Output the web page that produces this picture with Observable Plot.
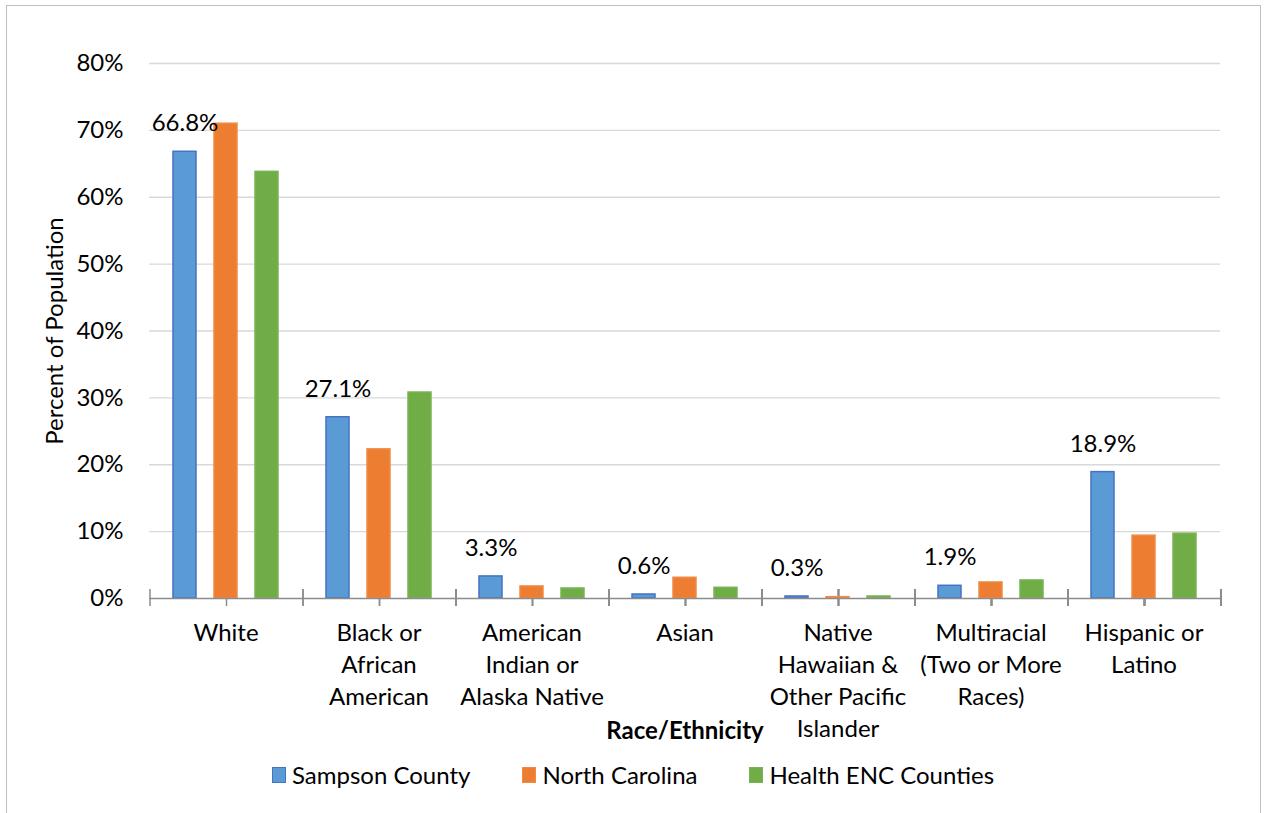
<!DOCTYPE html>
<html>
<head>
<meta charset="utf-8">
<script src="https://cdn.jsdelivr.net/npm/d3@7"></script>
<script src="https://cdn.jsdelivr.net/npm/@observablehq/plot@0.6"></script>
<style>
  html, body { margin: 0; padding: 0; background: #fff; }
  body { width: 1266px; height: 813px; position: relative; overflow: hidden; font-family: Lato, sans-serif; }
  #frame { position: absolute; left: 6px; top: 5px; width: 1255px; height: 900px; border: 1.5px solid #bfbfbf; box-sizing: border-box; }
  #chart { position: absolute; left: 0; top: 0; }
  #legend { position: absolute; top: 760px; left: 0; width: 1266px; display: flex; justify-content: center; gap: 0; font-size: 24px; color: #000; }
  .item { display: flex; align-items: center; }
  .sw { width: 14px; height: 16px; margin-right: 6px; box-sizing: border-box; }
</style>
</head>
<body>
<div id="frame"></div>
<div id="chart"></div>
<div id="legend"></div>
<script>
const categories = ["White", "Black or African American", "American Indian or Alaska Native", "Asian", "Native Hawaiian & Other Pacific Islander", "Multiracial (Two or More Races)", "Hispanic or Latino"];
const categoryLabels = ["White", "Black or\nAfrican\nAmerican", "American\nIndian or\nAlaska Native", "Asian", "Native\nHawaiian &\nOther Pacific\nIslander", "Multiracial\n(Two or More\nRaces)", "Hispanic or\nLatino"];
const seriesNames = ["Sampson County", "North Carolina", "Health ENC Counties"];
const sampson = [66.8, 27.1, 3.3, 0.6, 0.3, 1.9, 18.9];
const northCarolina = [71.0, 22.3, 1.8, 3.1, 0.2, 2.4, 9.4];
const healthENC = [63.8, 30.8, 1.5, 1.6, 0.3, 2.7, 9.7];
const yTicks = [0, 10, 20, 30, 40, 50, 60, 70, 80];
const colors = ["#5b9bd5", "#ed7d31", "#70ad47"];
const strokes = ["#4472c4", "#f08a45", "#7ab356"];

const seriesValues = [sampson, northCarolina, healthENC];
const data = [];
categories.forEach((c, i) => {
  seriesNames.forEach((s, j) => data.push({category: c, series: s, value: seriesValues[j][i]}));
});
const labelData = data.filter(d => d.series === "Sampson County");
const labelMap = new Map(categories.map((c, i) => [c, categoryLabels[i]]));

// axis tick marks at category boundaries and centers (drawn with the fx scale)
function categoryTicks(index, scales, values, dimensions) {
  const fx = scales.fx, y = scales.y;
  const y0 = y(0);
  const g = d3.create("svg:g").attr("stroke", "#8c8c8c").attr("stroke-width", 1.5);
  const bw = fx.bandwidth();
  const xs = [];
  categories.forEach(c => { xs.push(fx(c)); xs.push(fx(c) + bw / 2); });
  xs.push(fx(categories[categories.length - 1]) + bw);
  xs.forEach(x => g.append("line").attr("x1", x).attr("x2", x).attr("y1", y0 - 9).attr("y2", y0 + 8));
  return g.node();
}

const plot = Plot.plot({
  width: 1266,
  height: 745,
  marginLeft: 148,
  marginRight: 46,
  marginTop: 63,
  marginBottom: 147,
  style: {fontFamily: "Lato, sans-serif", fontSize: "24px", color: "#000", background: "transparent"},
  fx: {domain: categories, padding: 0},
  x: {domain: seriesNames, paddingInner: 0.43, paddingOuter: 0.57, axis: null},
  y: {domain: [0, 80]},
  color: {domain: seriesNames, range: colors},
  marks: [
    Plot.gridY(yTicks.slice(1), {stroke: "#d9d9d9", strokeOpacity: 1, strokeWidth: 1.3}),
    categoryTicks,
    Plot.barY(data, {fx: "category", x: "series", y: "value", fill: "series",
      stroke: d => strokes[seriesNames.indexOf(d.series)], strokeWidth: 1.5}),
    Plot.ruleY([0], {stroke: "#8c8c8c", strokeWidth: 1.5}),
    Plot.text(labelData, {fx: "category", x: "series", y: "value", text: d => d.value.toFixed(1) + "%",
      dy: -28, lineAnchor: "middle", fill: "#000"}),
    Plot.axisY(yTicks, {tickSize: 0, tickPadding: 26, tickFormat: d => d + "%",
      label: "Percent of Population", labelAnchor: "center", labelArrow: "none", labelOffset: 104}),
    Plot.axisFx({anchor: "bottom", tickSize: 0, tickPadding: 20, lineHeight: 1.33,
      tickFormat: d => labelMap.get(d), label: "Race/Ethnicity", labelAnchor: "center", labelArrow: "none", labelOffset: 140})
  ]
});
document.getElementById("chart").appendChild(plot);
d3.select(plot).selectAll("[aria-label='fx-axis label'] text").attr("font-weight", "bold");

const legend = document.getElementById("legend");
seriesNames.forEach((s, i) => {
  const item = document.createElement("div");
  item.className = "item";
  item.style.marginRight = i < seriesNames.length - 1 ? "52px" : "0";
  const sw = document.createElement("span");
  sw.className = "sw";
  sw.style.background = colors[i];
  sw.style.border = "1.5px solid " + strokes[i];
  const t = document.createElement("span");
  t.textContent = s;
  item.appendChild(sw); item.appendChild(t);
  legend.appendChild(item);
});
</script>
</body>
</html>
